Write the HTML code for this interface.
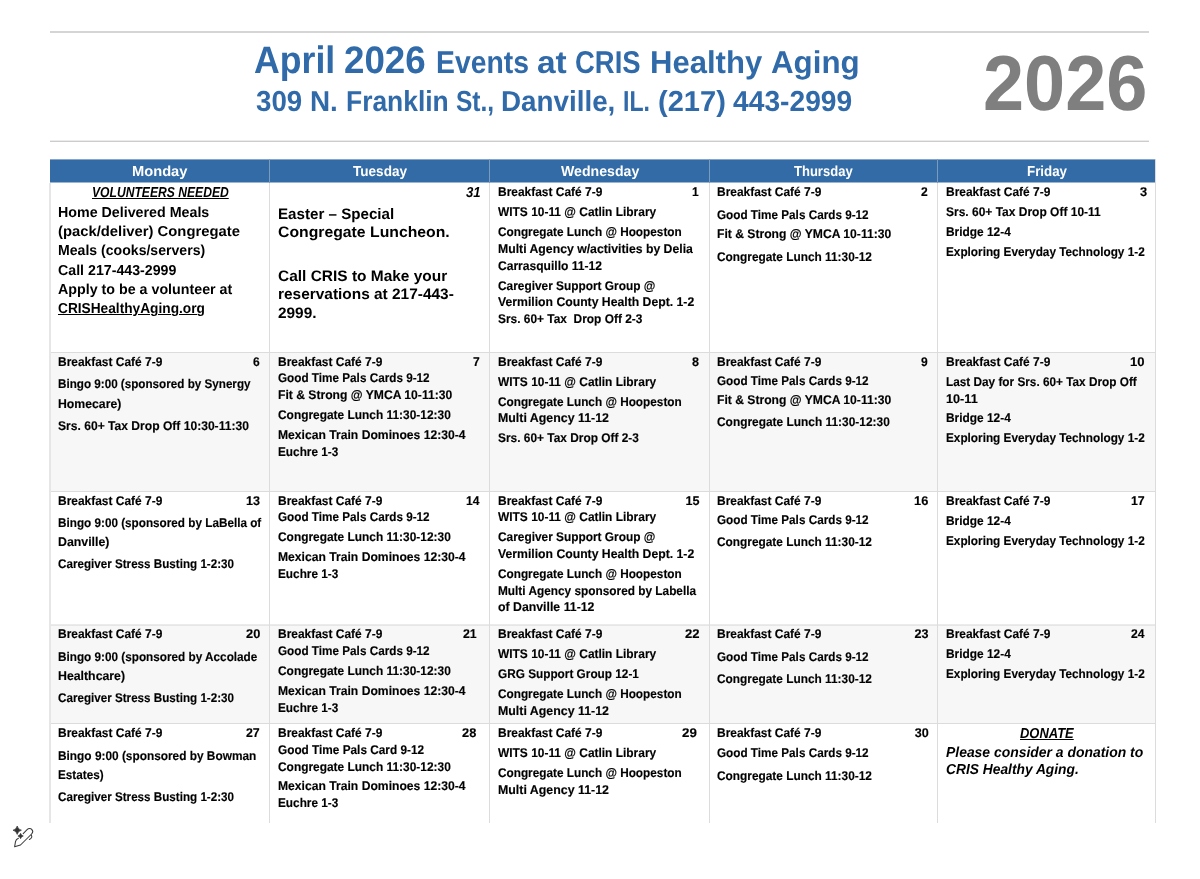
<!DOCTYPE html>
<html lang="en">
<head>
<meta charset="utf-8">
<title>April 2026 Events at CRIS Healthy Aging</title>
<style>
html,body{margin:0;padding:0;background:#fff}
#page{position:relative;width:1200px;height:879px;overflow:hidden;background:#fff;color:#000;
  font-family:"Liberation Sans",Arial,Helvetica,sans-serif}
.rule{position:absolute;left:50px;width:1099px;height:2px;background:#d5d5d5;border:0;margin:0}
.rule.b{background:linear-gradient(#ebebeb 50%,#ccc 50%)}
.t{position:absolute;margin:0;padding:0;white-space:pre;line-height:20px;font-size:12.6px;font-weight:700;
  font-style:normal;transform-origin:0 50%;color:#000;text-rendering:geometricPrecision}
.t.e{-webkit-text-stroke:.15px #000}
.t.i{font-style:italic}
.t.u{text-decoration:underline;text-decoration-thickness:1px;text-underline-offset:1px}
.t.h{color:#fff;font-size:14.4px}
.t.ttl{color:#306aa9}
.title,.subtitle,.yearbox{margin:0;padding:0;font-size:0;line-height:0;position:static}
.t.yr{color:#7f7f7f}
.cal{position:absolute;left:50px;top:159px;border-collapse:separate;border-spacing:0;table-layout:fixed;width:1106px}
.cal th,.cal td{padding:0;margin:0;border:0;vertical-align:top;text-align:left;font-weight:normal}
.cal th{height:24px;background:linear-gradient(#85a6ca,#85a6ca) 0 0/100% 1px no-repeat,linear-gradient(#99b5d2,#99b5d2) 0 100%/100% 1px no-repeat,#336ba6;box-shadow:inset 1px 0 0 #7b9abd}
.cal th:first-child{box-shadow:none}
.cal th:last-child{box-shadow:inset 1px 0 0 #7b9abd,inset -1px 0 0 #dcdcdc}
.cal td{background:#fff;--l:#dcdcdc;--t:#dcdcdc;--r:transparent;--b:transparent;
  box-shadow:inset 1px 0 0 var(--l),inset -1px 0 0 var(--r),inset 0 1px 0 var(--t),inset 0 -1px 0 var(--b)}
.cal td:first-child{--l:transparent}
.cal td:last-child{--r:#dcdcdc}
.cal tr.alt td{background-color:#f7f7f7}
.cal tbody tr:nth-child(1) td{--t:transparent}
.cal tbody tr:nth-child(3) td{--b:#ebebeb}
.cal tbody tr:nth-child(4) td{--t:#e6e6e6}
.edge{position:absolute;left:49px;top:183px;width:2px;height:640px;background:#e6e6e6}
.c{position:relative;width:100%;height:0}
.clip{position:absolute;left:0;top:823px;width:1200px;height:56px;background:#fff}
.ai{position:absolute;left:8px;top:822px;width:32px;height:28px}

</style>
</head>
<body>
<div id="page">
<hr class="rule" style="top:31px">
<hr class="rule b" style="top:140px">
<h1 class="title">
  <span class="t g ttl big" style="left:253.82px;top:51px;transform:scaleX(0.9339);font-size:38.2px">April</span>
  <span class="t g ttl big" style="left:344.05px;top:51px;transform:scaleX(0.9623);font-size:38.2px">2026</span>
  <span class="t g ttl" style="left:435.5px;top:52px;transform:scaleX(0.8995);font-size:31.5px">Events</span>
  <span class="t g ttl" style="left:537.04px;top:52px;transform:scaleX(1.0623);font-size:31.5px">at</span>
  <span class="t g ttl" style="left:574.91px;top:52px;transform:scaleX(0.8715);font-size:31.5px">CRIS</span>
  <span class="t g ttl" style="left:649.93px;top:52px;transform:scaleX(0.9857);font-size:31.5px">Healthy</span>
  <span class="t g ttl" style="left:771.25px;top:52px;transform:scaleX(0.9936);font-size:31.5px">Aging</span>
</h1>
<h2 class="subtitle">
  <span class="t g ttl" style="left:256.18px;top:92px;transform:scaleX(0.9589);font-size:28.9px">309</span>
  <span class="t g ttl" style="left:310.27px;top:92px;transform:scaleX(0.9640);font-size:28.9px">N.</span>
  <span class="t g ttl" style="left:345.92px;top:92px;transform:scaleX(0.9138);font-size:28.9px">Franklin</span>
  <span class="t g ttl" style="left:455.75px;top:92px;transform:scaleX(0.8488);font-size:28.9px">St.,</span>
  <span class="t g ttl" style="left:501.18px;top:92px;transform:scaleX(0.9622);font-size:28.9px">Danville,</span>
  <span class="t g ttl" style="left:623.4px;top:92px;transform:scaleX(0.7983);font-size:28.9px">IL.</span>
  <span class="t g ttl" style="left:657.89px;top:92px;transform:scaleX(1.0062);font-size:28.9px">(217)</span>
  <span class="t g ttl" style="left:732.91px;top:92px;transform:scaleX(0.9768);font-size:28.9px">443-2999</span>
</h2>
<div class="yearbox">
  <span class="t g yr" style="left:983.3px;top:73px;transform:scaleX(0.9470);font-size:78px">2026</span>
</div>
<table class="cal">
<thead><tr>
<th style="width:219px"><div class="c"><span class="t g h" style="left:81.98px;top:3px;transform:scaleX(1.0197)">Monday</span></div></th>
<th style="width:220px"><div class="c"><span class="t g h" style="left:83.76px;top:3px;transform:scaleX(0.9421)">Tuesday</span></div></th>
<th style="width:220px"><div class="c"><span class="t g h" style="left:71.7px;top:3px;transform:scaleX(0.9824)">Wednesday</span></div></th>
<th style="width:228px"><div class="c"><span class="t g h" style="left:85.02px;top:3px;transform:scaleX(0.9051)">Thursday</span></div></th>
<th style="width:219px"><div class="c"><span class="t g h" style="left:89.67px;top:3px;transform:scaleX(0.9262)">Friday</span></div></th>
</tr></thead>
<tbody>
<tr style="height:169px">
<td><div class="c">
  <p class="t g i u" style="left:41.55px;top:0px;transform:scaleX(0.8423);font-size:14.4px">VOLUNTEERS NEEDED</p>
  <p class="t g" style="left:8.03px;top:20px;transform:scaleX(0.9904);font-size:14.4px">Home Delivered Meals</p>
  <p class="t g" style="left:8.13px;top:39px;transform:scaleX(1.0291);font-size:14.4px">(pack/deliver) Congregate</p>
  <p class="t g" style="left:8.04px;top:58px;transform:scaleX(0.9788);font-size:14.4px">Meals (cooks/servers)</p>
  <p class="t g" style="left:8.28px;top:78px;transform:scaleX(0.9866);font-size:14.4px">Call 217-443-2999</p>
  <p class="t g" style="left:8.28px;top:97px;transform:scaleX(0.9906);font-size:14.4px">Apply to be a volunteer at</p>
  <p class="t g u" style="left:8.31px;top:116px;transform:scaleX(0.9519);font-size:14.4px">CRISHealthyAging.org</p>
</div></td>
<td><div class="c">
  <b class="t g i n" style="left:197.02px;top:0px;transform:scaleX(0.9167);font-size:14.4px">31</b>
  <p class="t g" style="left:8.93px;top:22px;transform:scaleX(0.9974);font-size:15.2px">Easter – Special</p>
  <p class="t g" style="left:9.02px;top:40px;transform:scaleX(1.0385);font-size:15.2px">Congregate Luncheon.</p>
  <p class="t g" style="left:9.04px;top:84px;transform:scaleX(1.0179);font-size:15.2px">Call CRIS to Make your</p>
  <p class="t g" style="left:8.91px;top:102px;transform:scaleX(1.0157);font-size:15.2px">reservations at 217-443-</p>
  <p class="t g" style="left:9.17px;top:121px;transform:scaleX(1.0137);font-size:15.2px">2999.</p>
</div></td>
<td><div class="c">
  <b class="t e n" style="left:202.78px;top:-1px;transform:scaleX(0.9583)">1</b>
  <p class="t e" style="left:8.59px;top:-1px;transform:scaleX(0.9490)">Breakfast Café 7-9</p>
  <p class="t e" style="left:8.94px;top:19px;transform:scaleX(0.9475)">WITS 10-11 @ Catlin Library</p>
  <p class="t e" style="left:8.72px;top:39px;transform:scaleX(0.9359)">Congregate Lunch @ Hoopeston</p>
  <p class="t e" style="left:8.57px;top:56px;transform:scaleX(0.9725)">Multi Agency w/activities by Delia</p>
  <p class="t e" style="left:8.7px;top:73px;transform:scaleX(0.9581)">Carrasquillo 11-12</p>
  <p class="t e" style="left:8.71px;top:93px;transform:scaleX(0.9427)">Caregiver Support Group @</p>
  <p class="t e" style="left:8.81px;top:109px;transform:scaleX(0.9702)">Vermilion County Health Dept. 1-2</p>
  <p class="t e" style="left:8.71px;top:126px;transform:scaleX(0.9456)">Srs. 60+ Tax  Drop Off 2-3</p>
</div></td>
<td><div class="c">
  <b class="t e n" style="left:211.77px;top:-1px;transform:scaleX(0.9583)">2</b>
  <p class="t e" style="left:8.29px;top:-1px;transform:scaleX(0.9490)">Breakfast Café 7-9</p>
  <p class="t e" style="left:8.42px;top:22px;transform:scaleX(0.9311)">Good Time Pals Cards 9-12</p>
  <p class="t e" style="left:8.28px;top:41px;transform:scaleX(0.9630)">Fit &amp; Strong @ YMCA 10-11:30</p>
  <p class="t e" style="left:8.41px;top:64px;transform:scaleX(0.9419)">Congregate Lunch 11:30-12</p>
</div></td>
<td><div class="c">
  <b class="t e n" style="left:203.24px;top:-1px;transform:scaleX(1.0240)">3</b>
  <p class="t e" style="left:9.09px;top:-1px;transform:scaleX(0.9490)">Breakfast Café 7-9</p>
  <p class="t e" style="left:9.2px;top:19px;transform:scaleX(0.9521)">Srs. 60+ Tax Drop Off 10-11</p>
  <p class="t e" style="left:9.09px;top:39px;transform:scaleX(0.9446)">Bridge 12-4</p>
  <p class="t e" style="left:9.1px;top:59px;transform:scaleX(0.9349)">Exploring Everyday Technology 1-2</p>
</div></td>
</tr>
<tr class="alt" style="height:139px">
<td><div class="c">
  <b class="t e n" style="left:202.52px;top:0px;transform:scaleX(0.9583)">6</b>
  <p class="t e" style="left:8.19px;top:0px;transform:scaleX(0.9490)">Breakfast Café 7-9</p>
  <p class="t e" style="left:8.21px;top:22px;transform:scaleX(0.9263)">Bingo 9:00 (sponsored by Synergy</p>
  <p class="t e" style="left:8.17px;top:42px;transform:scaleX(0.9725)">Homecare)</p>
  <p class="t e" style="left:8.3px;top:64px;transform:scaleX(0.9596)">Srs. 60+ Tax Drop Off 10:30-11:30</p>
</div></td>
<td><div class="c">
  <b class="t e n" style="left:203.52px;top:0px;transform:scaleX(0.9583)">7</b>
  <p class="t e" style="left:9.09px;top:0px;transform:scaleX(0.9490)">Breakfast Café 7-9</p>
  <p class="t e" style="left:9.22px;top:16px;transform:scaleX(0.9311)">Good Time Pals Cards 9-12</p>
  <p class="t e" style="left:9.08px;top:33px;transform:scaleX(0.9630)">Fit &amp; Strong @ YMCA 10-11:30</p>
  <p class="t e" style="left:9.21px;top:53px;transform:scaleX(0.9458)">Congregate Lunch 11:30-12:30</p>
  <p class="t e" style="left:9.08px;top:73px;transform:scaleX(0.9639)">Mexican Train Dominoes 12:30-4</p>
  <p class="t e" style="left:9.1px;top:90px;transform:scaleX(0.9368)">Euchre 1-3</p>
</div></td>
<td><div class="c">
  <b class="t e n" style="left:203px;top:0px;transform:scaleX(1.0000)">8</b>
  <p class="t e" style="left:8.59px;top:0px;transform:scaleX(0.9490)">Breakfast Café 7-9</p>
  <p class="t e" style="left:8.94px;top:20px;transform:scaleX(0.9475)">WITS 10-11 @ Catlin Library</p>
  <p class="t e" style="left:8.72px;top:40px;transform:scaleX(0.9359)">Congregate Lunch @ Hoopeston</p>
  <p class="t e" style="left:8.56px;top:56px;transform:scaleX(0.9821)">Multi Agency 11-12</p>
  <p class="t e" style="left:8.71px;top:76px;transform:scaleX(0.9444)">Srs. 60+ Tax Drop Off 2-3</p>
</div></td>
<td><div class="c">
  <b class="t e n" style="left:211.77px;top:0px;transform:scaleX(0.9583)">9</b>
  <p class="t e" style="left:8.29px;top:0px;transform:scaleX(0.9490)">Breakfast Café 7-9</p>
  <p class="t e" style="left:8.42px;top:19px;transform:scaleX(0.9311)">Good Time Pals Cards 9-12</p>
  <p class="t e" style="left:8.28px;top:38px;transform:scaleX(0.9630)">Fit &amp; Strong @ YMCA 10-11:30</p>
  <p class="t e" style="left:8.41px;top:60px;transform:scaleX(0.9458)">Congregate Lunch 11:30-12:30</p>
</div></td>
<td><div class="c">
  <b class="t e n" style="left:193.47px;top:0px;transform:scaleX(1.0392)">10</b>
  <p class="t e" style="left:9.09px;top:0px;transform:scaleX(0.9490)">Breakfast Café 7-9</p>
  <p class="t e" style="left:9.1px;top:20px;transform:scaleX(0.9360)">Last Day for Srs. 60+ Tax Drop Off</p>
  <p class="t e" style="left:9.04px;top:37px;transform:scaleX(1.0082)">10-11</p>
  <p class="t e" style="left:9.09px;top:56px;transform:scaleX(0.9446)">Bridge 12-4</p>
  <p class="t e" style="left:9.1px;top:76px;transform:scaleX(0.9349)">Exploring Everyday Technology 1-2</p>
</div></td>
</tr>
<tr style="height:134px">
<td><div class="c">
  <b class="t e n" style="left:196px;top:0px;transform:scaleX(1.0000)">13</b>
  <p class="t e" style="left:8.19px;top:0px;transform:scaleX(0.9490)">Breakfast Café 7-9</p>
  <p class="t e" style="left:8.2px;top:22px;transform:scaleX(0.9310)">Bingo 9:00 (sponsored by LaBella of</p>
  <p class="t e" style="left:8.16px;top:41px;transform:scaleX(0.9804)">Danville)</p>
  <p class="t e" style="left:8.32px;top:63px;transform:scaleX(0.9247)">Caregiver Stress Busting 1-2:30</p>
</div></td>
<td><div class="c">
  <b class="t e n" style="left:197.03px;top:0px;transform:scaleX(0.9623)">14</b>
  <p class="t e" style="left:9.09px;top:0px;transform:scaleX(0.9490)">Breakfast Café 7-9</p>
  <p class="t e" style="left:9.22px;top:16px;transform:scaleX(0.9311)">Good Time Pals Cards 9-12</p>
  <p class="t e" style="left:9.21px;top:36px;transform:scaleX(0.9458)">Congregate Lunch 11:30-12:30</p>
  <p class="t e" style="left:9.08px;top:56px;transform:scaleX(0.9639)">Mexican Train Dominoes 12:30-4</p>
  <p class="t e" style="left:9.1px;top:73px;transform:scaleX(0.9368)">Euchre 1-3</p>
</div></td>
<td><div class="c">
  <b class="t e n" style="left:196.5px;top:0px;transform:scaleX(1.0000)">15</b>
  <p class="t e" style="left:8.59px;top:0px;transform:scaleX(0.9490)">Breakfast Café 7-9</p>
  <p class="t e" style="left:8.94px;top:16px;transform:scaleX(0.9475)">WITS 10-11 @ Catlin Library</p>
  <p class="t e" style="left:8.71px;top:36px;transform:scaleX(0.9427)">Caregiver Support Group @</p>
  <p class="t e" style="left:8.81px;top:53px;transform:scaleX(0.9702)">Vermilion County Health Dept. 1-2</p>
  <p class="t e" style="left:8.72px;top:73px;transform:scaleX(0.9359)">Congregate Lunch @ Hoopeston</p>
  <p class="t e" style="left:8.6px;top:90px;transform:scaleX(0.9394)">Multi Agency sponsored by Labella</p>
  <p class="t e" style="left:8.69px;top:106px;transform:scaleX(0.9770)">of Danville 11-12</p>
</div></td>
<td><div class="c">
  <b class="t e n" style="left:205.24px;top:0px;transform:scaleX(1.0196)">16</b>
  <p class="t e" style="left:8.29px;top:0px;transform:scaleX(0.9490)">Breakfast Café 7-9</p>
  <p class="t e" style="left:8.42px;top:19px;transform:scaleX(0.9311)">Good Time Pals Cards 9-12</p>
  <p class="t e" style="left:8.41px;top:41px;transform:scaleX(0.9419)">Congregate Lunch 11:30-12</p>
</div></td>
<td><div class="c">
  <b class="t e n" style="left:193.51px;top:0px;transform:scaleX(0.9804)">17</b>
  <p class="t e" style="left:9.09px;top:0px;transform:scaleX(0.9490)">Breakfast Café 7-9</p>
  <p class="t e" style="left:9.09px;top:20px;transform:scaleX(0.9446)">Bridge 12-4</p>
  <p class="t e" style="left:9.1px;top:40px;transform:scaleX(0.9349)">Exploring Everyday Technology 1-2</p>
</div></td>
</tr>
<tr class="alt" style="height:98px">
<td><div class="c">
  <b class="t e n" style="left:195.74px;top:-1px;transform:scaleX(1.0192)">20</b>
  <p class="t e" style="left:8.19px;top:-1px;transform:scaleX(0.9490)">Breakfast Café 7-9</p>
  <p class="t e" style="left:8.2px;top:22px;transform:scaleX(0.9329)">Bingo 9:00 (sponsored by Accolade</p>
  <p class="t e" style="left:8.17px;top:41px;transform:scaleX(0.9777)">Healthcare)</p>
  <p class="t e" style="left:8.32px;top:63px;transform:scaleX(0.9247)">Caregiver Stress Busting 1-2:30</p>
</div></td>
<td><div class="c">
  <b class="t e n" style="left:193.76px;top:-1px;transform:scaleX(0.9811)">21</b>
  <p class="t e" style="left:9.09px;top:-1px;transform:scaleX(0.9490)">Breakfast Café 7-9</p>
  <p class="t e" style="left:9.22px;top:16px;transform:scaleX(0.9311)">Good Time Pals Cards 9-12</p>
  <p class="t e" style="left:9.21px;top:36px;transform:scaleX(0.9458)">Congregate Lunch 11:30-12:30</p>
  <p class="t e" style="left:9.08px;top:56px;transform:scaleX(0.9639)">Mexican Train Dominoes 12:30-4</p>
  <p class="t e" style="left:9.1px;top:73px;transform:scaleX(0.9368)">Euchre 1-3</p>
</div></td>
<td><div class="c">
  <b class="t e n" style="left:196.23px;top:-1px;transform:scaleX(1.0385)">22</b>
  <p class="t e" style="left:8.59px;top:-1px;transform:scaleX(0.9490)">Breakfast Café 7-9</p>
  <p class="t e" style="left:8.94px;top:19px;transform:scaleX(0.9475)">WITS 10-11 @ Catlin Library</p>
  <p class="t e" style="left:8.71px;top:39px;transform:scaleX(0.9365)">GRG Support Group 12-1</p>
  <p class="t e" style="left:8.72px;top:59px;transform:scaleX(0.9359)">Congregate Lunch @ Hoopeston</p>
  <p class="t e" style="left:8.56px;top:76px;transform:scaleX(0.9821)">Multi Agency 11-12</p>
</div></td>
<td><div class="c">
  <b class="t e n" style="left:205.5px;top:-1px;transform:scaleX(1.0000)">23</b>
  <p class="t e" style="left:8.29px;top:-1px;transform:scaleX(0.9490)">Breakfast Café 7-9</p>
  <p class="t e" style="left:8.42px;top:22px;transform:scaleX(0.9311)">Good Time Pals Cards 9-12</p>
  <p class="t e" style="left:8.41px;top:44px;transform:scaleX(0.9419)">Congregate Lunch 11:30-12</p>
</div></td>
<td><div class="c">
  <b class="t e n" style="left:193.77px;top:-1px;transform:scaleX(0.9630)">24</b>
  <p class="t e" style="left:9.09px;top:-1px;transform:scaleX(0.9490)">Breakfast Café 7-9</p>
  <p class="t e" style="left:9.09px;top:19px;transform:scaleX(0.9446)">Bridge 12-4</p>
  <p class="t e" style="left:9.1px;top:39px;transform:scaleX(0.9349)">Exploring Everyday Technology 1-2</p>
</div></td>
</tr>
<tr style="height:100px">
<td><div class="c">
  <b class="t e n" style="left:196.26px;top:0px;transform:scaleX(0.9808)">27</b>
  <p class="t e" style="left:8.19px;top:0px;transform:scaleX(0.9490)">Breakfast Café 7-9</p>
  <p class="t e" style="left:8.19px;top:23px;transform:scaleX(0.9414)">Bingo 9:00 (sponsored by Bowman</p>
  <p class="t e" style="left:8.2px;top:42px;transform:scaleX(0.9316)">Estates)</p>
  <p class="t e" style="left:8.32px;top:64px;transform:scaleX(0.9247)">Caregiver Stress Busting 1-2:30</p>
</div></td>
<td><div class="c">
  <b class="t e n" style="left:193.49px;top:0px;transform:scaleX(1.0192)">28</b>
  <p class="t e" style="left:9.09px;top:0px;transform:scaleX(0.9490)">Breakfast Café 7-9</p>
  <p class="t e" style="left:9.21px;top:17px;transform:scaleX(0.9370)">Good Time Pals Card 9-12</p>
  <p class="t e" style="left:9.21px;top:34px;transform:scaleX(0.9458)">Congregate Lunch 11:30-12:30</p>
  <p class="t e" style="left:9.08px;top:53px;transform:scaleX(0.9639)">Mexican Train Dominoes 12:30-4</p>
  <p class="t e" style="left:9.1px;top:70px;transform:scaleX(0.9368)">Euchre 1-3</p>
</div></td>
<td><div class="c">
  <b class="t e n" style="left:192.97px;top:0px;transform:scaleX(1.0577)">29</b>
  <p class="t e" style="left:8.59px;top:0px;transform:scaleX(0.9490)">Breakfast Café 7-9</p>
  <p class="t e" style="left:8.94px;top:20px;transform:scaleX(0.9475)">WITS 10-11 @ Catlin Library</p>
  <p class="t e" style="left:8.72px;top:40px;transform:scaleX(0.9359)">Congregate Lunch @ Hoopeston</p>
  <p class="t e" style="left:8.56px;top:57px;transform:scaleX(0.9821)">Multi Agency 11-12</p>
</div></td>
<td><div class="c">
  <b class="t e n" style="left:205.75px;top:0px;transform:scaleX(1.0000)">30</b>
  <p class="t e" style="left:8.29px;top:0px;transform:scaleX(0.9490)">Breakfast Café 7-9</p>
  <p class="t e" style="left:8.42px;top:20px;transform:scaleX(0.9311)">Good Time Pals Cards 9-12</p>
  <p class="t e" style="left:8.41px;top:43px;transform:scaleX(0.9419)">Congregate Lunch 11:30-12</p>
</div></td>
<td><div class="c">
  <p class="t g i u" style="left:82.78px;top:1px;transform:scaleX(0.8996);font-size:14.4px">DONATE</p>
  <p class="t g i" style="left:9.32px;top:20px;transform:scaleX(0.9668);font-size:14.4px">Please consider a donation to</p>
  <p class="t g i" style="left:9.08px;top:37px;transform:scaleX(0.9579);font-size:14.4px">CRIS Healthy Aging.</p>
</div></td>
</tr>
</tbody>
</table>
<div class="edge"></div>
<div class="clip"></div>
<svg class="ai" viewBox="0 0 32 28" width="32" height="28" aria-hidden="true">
  <path d="M9.2 4Q9.95 7.45 13.4 8.2Q9.95 8.95 9.2 12.4Q8.45 8.95 5 8.2Q8.45 7.45 9.2 4Z" fill="#333" stroke="#333" stroke-width=".7" stroke-linejoin="round"/>
  <path d="M12.6 11.3Q13.1 13.5 15.3 14Q13.1 14.5 12.6 16.7Q12.1 14.5 9.9 14Q12.1 13.5 12.6 11.3Z" fill="#333" stroke="#333" stroke-width=".6" stroke-linejoin="round"/>
  <path d="M15.2 11.7L19.1 7.7C20.5 6.3 22.7 6.2 23.9 7.6C25.1 9 24.8 10.8 23.6 12L12.5 23L6.6 24.8L7.5 19.6C7.8 18.1 8.9 17 10.4 16.3" fill="none" stroke="#3a3a3a" stroke-width="1.05" stroke-linecap="round" stroke-linejoin="round"/>
  <path d="M23.3 13C24.3 14.6 23.9 16.2 21.4 17.5" fill="none" stroke="#3a3a3a" stroke-width="1.05" stroke-linecap="round"/>
</svg>
</div>
</body>
</html>
